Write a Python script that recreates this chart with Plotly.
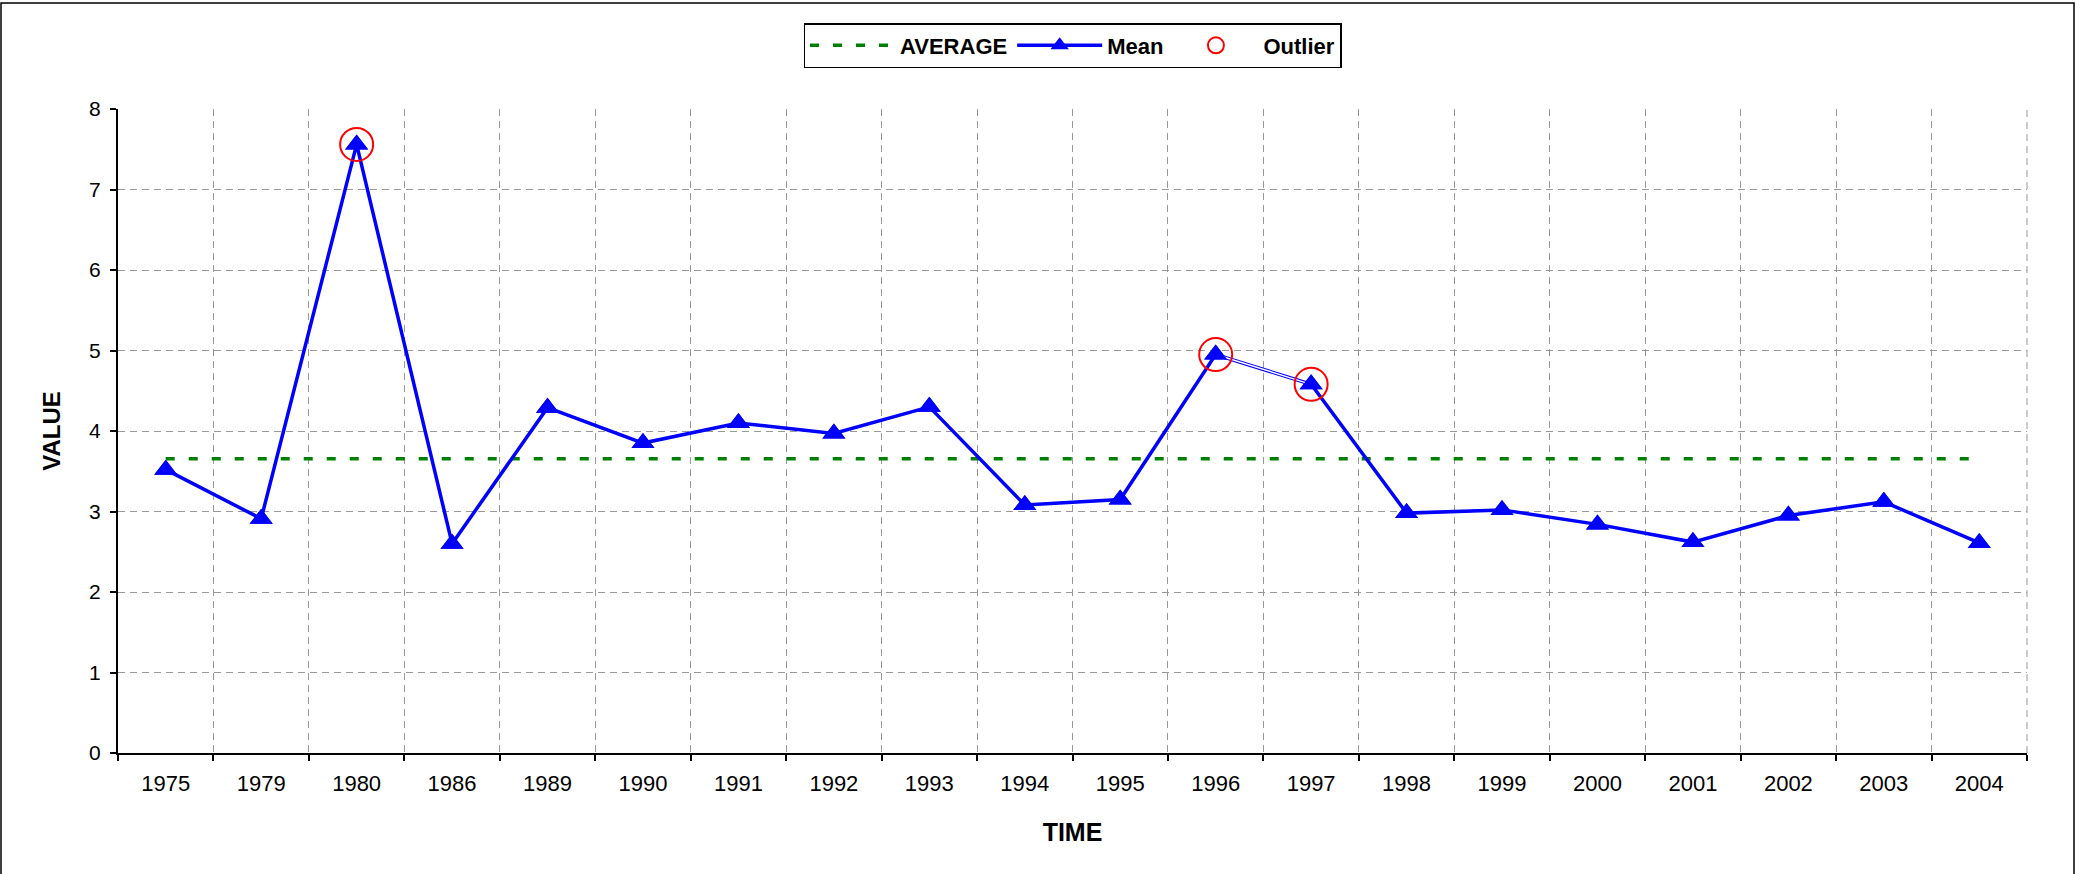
import plotly.graph_objects as go

# ---- data ----
years = ["1975", "1979", "1980", "1986", "1989", "1990", "1991", "1992", "1993", "1994",
         "1995", "1996", "1997", "1998", "1999", "2000", "2001", "2002", "2003", "2004"]
mean_values = [3.52, 2.91, 7.56, 2.60, 4.29, 3.85, 4.10, 3.97, 4.30, 3.08,
               3.15, 4.95, 4.58, 2.98, 3.02, 2.84, 2.62, 2.95, 3.12, 2.61]
average_value = 3.655
outlier_years = ["1980", "1996", "1997"]
outlier_values = [7.56, 4.95, 4.58]
double_segment_years = ["1996", "1997"]
double_segment_values = [4.95, 4.58]
y_ticks = [0, 1, 2, 3, 4, 5, 6, 7, 8]

# ---- geometry ----
W, H = 2081, 874
ML, MR, MT, MB = 118, 54, 109, 121
PW = W - ML - MR
PH = H - MT - MB


def px_x(p):
    return (p - ML) / PW


def px_y(p):
    return (H - MB - p) / PH


FONT = "Liberation Sans, Arial, sans-serif"

fig = go.Figure()

fig.add_trace(go.Scatter(
    x=[years[0], years[-1]], y=[average_value, average_value],
    mode="lines", name="AVERAGE",
    line=dict(color="#008000", width=3.5, dash="9px,14px"),
))

fig.add_trace(go.Scatter(
    x=years, y=mean_values, mode="lines+markers", name="Mean",
    line=dict(color="#0000FF", width=3.5),
    marker=dict(symbol="triangle-up", size=20, color="#0000FF"),
))

# hollow (double-line) segment
fig.add_trace(go.Scatter(
    x=double_segment_years, y=double_segment_values, mode="lines",
    line=dict(color="white", width=1.4), showlegend=False, hoverinfo="skip",
))

fig.add_trace(go.Scatter(
    x=years, y=mean_values, mode="markers", showlegend=False,
    marker=dict(symbol="triangle-up", size=20, color="#0000FF"),
))

fig.add_trace(go.Scatter(
    x=outlier_years, y=outlier_values, mode="markers", name="Outlier",
    marker=dict(symbol="circle-open", size=33, color="#FF0000",
                line=dict(color="#FF0000", width=2)),
))

fig.update_layout(
    width=W, height=H, autosize=False,
    margin=dict(l=ML, r=MR, t=MT, b=MB, pad=0),
    paper_bgcolor="white", plot_bgcolor="white",
    font=dict(family=FONT, size=20, color="black"),
    showlegend=True,
    legend=dict(
        orientation="h", x=0.5, xanchor="center",
        y=px_y(23), yanchor="top",
        bordercolor="black", borderwidth=1.5,
        font=dict(family=FONT, size=22, color="black", weight="bold"),
        itemsizing="trace", itemwidth=85,
        bgcolor="white",
    ),
    xaxis=dict(
        type="category", categoryorder="array", categoryarray=years,
        range=[-0.5, len(years) - 0.5],
        tickson="boundaries", ticks="outside", ticklen=6, tickcolor="black", tickwidth=2,
        ticklabelstandoff=10,
        showline=True, linecolor="black", linewidth=2,
        showgrid=True, gridcolor="#999999", gridwidth=1, griddash="7px,5px",
        tickfont=dict(family=FONT, size=22),
        title=dict(text="TIME", font=dict(family=FONT, size=25, weight="bold"), standoff=28),
        zeroline=False, automargin=False,
    ),
    yaxis=dict(
        range=[0, 8], tickvals=y_ticks,
        ticks="outside", ticklen=6, tickcolor="black", tickwidth=2,
        ticklabelstandoff=5,
        showline=True, linecolor="black", linewidth=2,
        showgrid=True, gridcolor="#999999", gridwidth=1, griddash="7px,5px",
        tickfont=dict(family=FONT, size=21),
        title=dict(text="VALUE", font=dict(family=FONT, size=24, weight="bold"), standoff=22),
        zeroline=False, automargin=False,
    ),
    shapes=[
        dict(type="rect", xref="paper", yref="paper",
             x0=px_x(1), x1=px_x(2074), y0=px_y(910), y1=px_y(3),
             line=dict(color="black", width=1.5), fillcolor="rgba(0,0,0,0)", layer="below"),
        # right dashed border of plot area
        dict(type="line", xref="paper", yref="paper", x0=1, x1=1, y0=0, y1=1,
             line=dict(color="#999999", width=1, dash="7px,5px"), layer="below"),
    ],
)

fig.write_html("out.html", config={"displayModeBar": False},
               post_script="document.body.style.margin='0';document.body.style.overflow='hidden';")
